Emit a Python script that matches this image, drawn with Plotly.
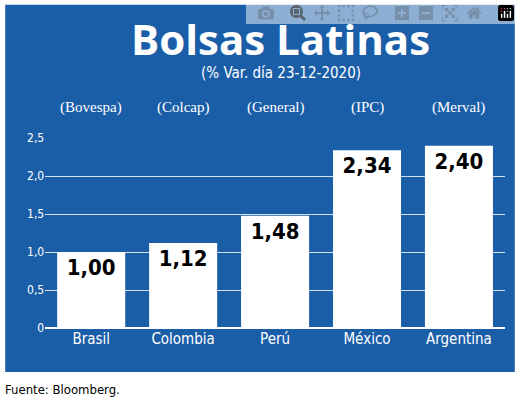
import plotly.graph_objects as go

countries = ["Brasil", "Colombia", "Perú", "México", "Argentina"]
indices = ["(Bovespa)", "(Colcap)", "(General)", "(IPC)", "(Merval)"]
values = [1.00, 1.12, 1.48, 2.34, 2.40]
labels = ["1,00", "1,12", "1,48", "2,34", "2,40"]
yticks = [0, 0.5, 1.0, 1.5, 2.0, 2.5]
yticktext = ["0", "0,5", "1,0", "1,5", "2,0", "2,5"]

BLUE = "#1b5ea8"
fig = go.Figure(go.Bar(
    x=countries, y=values, marker=dict(color="white", line=dict(width=0)),
    width=0.74, text=labels, textposition="inside", insidetextanchor="end",
    textangle=0,
    textfont=dict(color="black", size=22, family="DejaVu Sans Condensed"),
))
fig.update_traces(texttemplate="<b>%{text}</b>")
fig.add_shape(type="rect", xref="paper", yref="paper", x0=0.01, x1=0.99,
              y0=0.079, y1=0.988, fillcolor=BLUE, line=dict(width=0), layer="below")
fig.add_annotation(text="<b>Bolsas Latinas</b>", xref="paper", yref="paper", x=0.54, y=0.905,
                   yanchor="middle", showarrow=False,
                   font=dict(color="white", size=42, family="Open Sans"))
fig.add_annotation(text="(% Var. día 23-12-2020)", xref="paper", yref="paper", x=0.54, y=0.82,
                   yanchor="middle", showarrow=False,
                   font=dict(color="white", size=15, family="DejaVu Sans Condensed"))
for c, t in zip(countries, indices):
    fig.add_annotation(text=t, x=c, xref="x", yref="paper", y=0.735, yanchor="middle",
                       showarrow=False,
                       font=dict(color="white", size=15, family="Liberation Serif"))
fig.add_annotation(text="Fuente: Bloomberg.", xref="paper", yref="paper", x=0.005, y=0.035,
                   xanchor="left", yanchor="middle", showarrow=False,
                   font=dict(color="black", size=13, family="DejaVu Sans Condensed"))
fig.update_layout(
    width=520, height=404, margin=dict(l=0, r=0, t=0, b=0, autoexpand=False),
    paper_bgcolor="white", plot_bgcolor=BLUE, showlegend=False, bargap=0.26,
    xaxis=dict(domain=[0.087, 0.971], showgrid=False, showline=False, automargin=False,
               tickfont=dict(color="white", size=15, family="DejaVu Sans Condensed"), ticks=""),
    yaxis=dict(domain=[0.188, 0.658], range=[0, 2.5], tickvals=yticks, ticktext=yticktext,
               automargin=False,
               gridcolor="rgba(255,255,255,0.8)", gridwidth=1, zeroline=True,
               zerolinecolor="white", tickfont=dict(color="white", size=12, family="DejaVu Sans Condensed")),
)
fig.write_html("out.html", post_script="document.body.style.margin='0';")
